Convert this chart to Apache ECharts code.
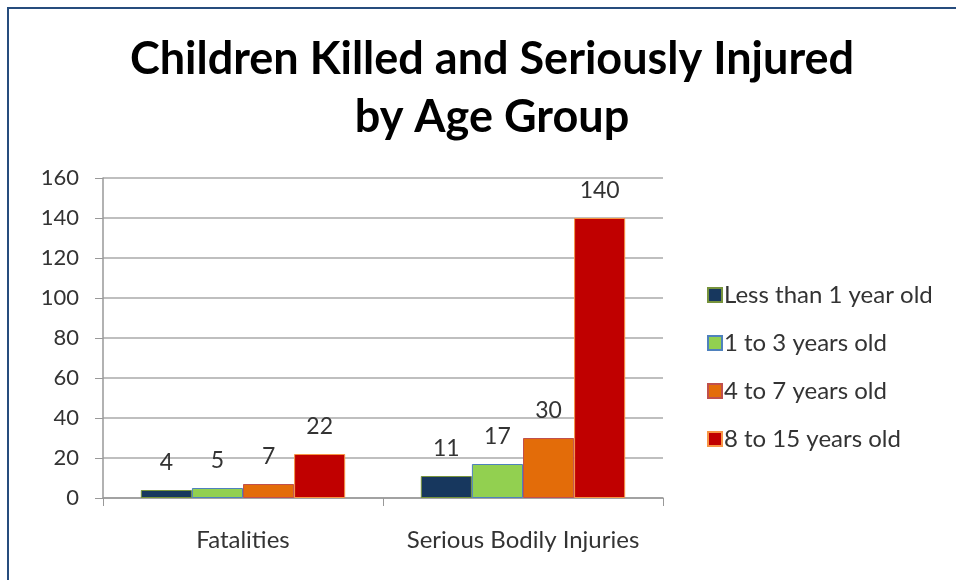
<!DOCTYPE html>
<html><head><meta charset="utf-8">
<script src="https://cdn.jsdelivr.net/npm/echarts@6/dist/echarts.min.js"></script>
<style>html,body{margin:0;padding:0;background:#fff}#c{width:956px;height:580px}</style>
</head><body><div id="c"></div>
<script>
const categories = ['Fatalities', 'Serious Bodily Injuries'];
const seriesNames = ['Less than 1 year old', '1 to 3 years old', '4 to 7 years old', '8 to 15 years old'];
const lessThan1 = [4, 11];
const oneTo3 = [5, 17];
const fourTo7 = [7, 30];
const eightTo15 = [22, 140];
const yTicks = [0, 20, 40, 60, 80, 100, 120, 140, 160];

const colors = ['#17375E', '#92D050', '#E36C09', '#C00000'];
const borders = ['#77933C', '#4F81BD', '#C0504D', '#F79646'];
const values = [lessThan1, oneTo3, fourTo7, eightTo15];
const font = 'Lato, "Open Sans", sans-serif';

const chart = echarts.init(document.getElementById('c'));
chart.setOption({
  animation: false,
  textStyle: { fontFamily: font },
  title: {
    text: 'Children Killed and Seriously Injured\nby Age Group',
    left: 487, textAlign: 'center', top: 25,
    textStyle: { fontFamily: font, fontSize: 45, fontWeight: 'bold', color: '#000', lineHeight: 58 }
  },
  graphic: [{
    type: 'rect', shape: { x: 8, y: 8, width: 1000, height: 600 },
    style: { fill: 'none', stroke: '#264C7D', lineWidth: 2 }, silent: true
  }],
  legend: {
    orient: 'vertical', left: 702, top: 278,
    itemWidth: 14, itemHeight: 14, itemGap: 24,
    icon: 'rect',
    textStyle: { fontFamily: font, fontSize: 24, lineHeight: 24, color: '#333', padding: [0, 0, 0, -3] },
    data: seriesNames
  },
  grid: { left: 103, top: 178, width: 560, height: 320 },
  xAxis: {
    type: 'category', data: categories,
    axisLine: { lineStyle: { color: '#999', width: 1.5 } },
    axisTick: { show: true, length: 8, alignWithLabel: false, lineStyle: { color: '#999' } },
    axisLabel: { interval: 0, fontFamily: font, fontSize: 24, color: '#333', margin: 30 }
  },
  yAxis: {
    type: 'value', min: 0, max: 160, interval: 20,
    axisLine: { show: true, lineStyle: { color: '#999', width: 1.5 } },
    axisTick: { show: true, length: 8, lineStyle: { color: '#999' } },
    splitLine: { lineStyle: { color: '#aaa', width: 1.5 } },
    axisLabel: { fontFamily: font, fontSize: 22, color: '#333', margin: 24 }
  },
  series: seriesNames.map((n, i) => ({
    name: n, type: 'bar', data: values[i],
    barGap: '0%', barCategoryGap: '27%',
    itemStyle: { color: colors[i], borderColor: borders[i], borderWidth: 1 },
    label: { show: true, position: 'top', distance: 16, fontFamily: font, fontSize: 23, color: '#333' }
  }))
});
</script></body></html>
